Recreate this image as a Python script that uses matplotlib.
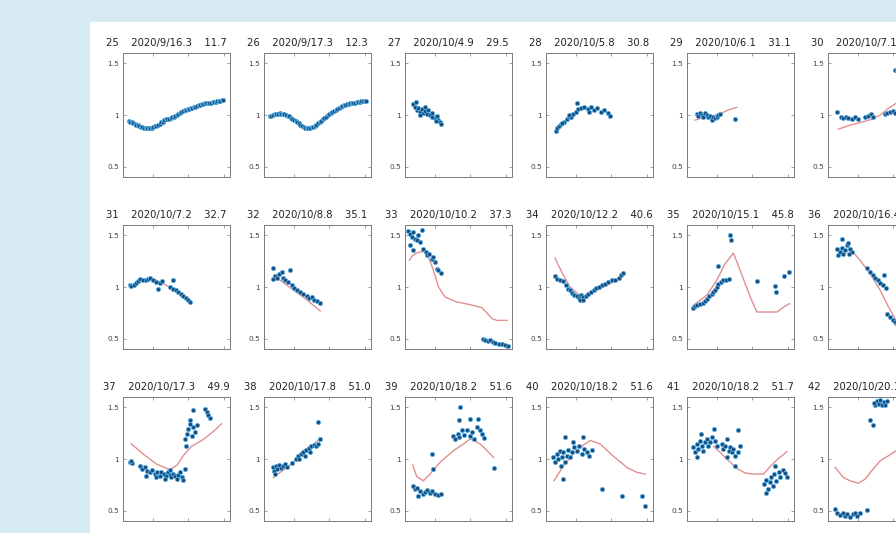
import numpy as np
import matplotlib
matplotlib.use("Agg")
import matplotlib.pyplot as plt
from matplotlib.patches import Rectangle

# %% Data (x = percent of each panel's time span, y = ratio)
panel_ids = [25, 26, 27, 28, 29, 30, 31, 32, 33, 34, 35, 36, 37, 38, 39, 40, 41, 42]
panel_dates = ["2020/9/16.3", "2020/9/17.3", "2020/10/4.9", "2020/10/5.8", "2020/10/6.1", "2020/10/7.1",
               "2020/10/7.2", "2020/10/8.8", "2020/10/10.2", "2020/10/12.2", "2020/10/15.1", "2020/10/16.4",
               "2020/10/17.3", "2020/10/17.8", "2020/10/18.2", "2020/10/18.2", "2020/10/18.2", "2020/10/20.1"]
panel_vals = ["11.7", "12.3", "29.5", "30.8", "31.1", "32.5",
              "32.7", "35.1", "37.3", "40.6", "45.8", "47.2",
              "49.9", "51.0", "51.6", "51.6", "51.7", "54.3"]

p25_pts = [(5.5, .942), (6.8, .935), (8.1, .928), (9.6, .924), (11.0, .915), (12.4, .905), (13.9, .902),
           (15.3, .895), (16.8, .888), (18.2, .884), (19.7, .876), (21.1, .872), (22.6, .870), (24.0, .874),
           (25.5, .872), (27.0, .878), (28.4, .882), (29.9, .890), (31.3, .897), (32.8, .905), (34.2, .915),
           (35.7, .928), (37.1, .936), (38.6, .948), (40.0, .958), (41.5, .962), (43.0, .966), (44.4, .974),
           (45.9, .978), (47.3, .982), (48.8, .990), (50.2, 1.0), (51.7, 1.008), (53.1, 1.018), (54.6, 1.026),
           (56.0, 1.036), (57.5, 1.044), (59.0, 1.052), (60.4, 1.055), (61.9, 1.060), (63.3, 1.066),
           (64.8, 1.072), (66.2, 1.075), (67.7, 1.082), (69.1, 1.088), (70.6, 1.093), (72.0, 1.098),
           (73.5, 1.102), (75.0, 1.108), (76.4, 1.112), (77.9, 1.114), (79.3, 1.117), (80.8, 1.118),
           (82.2, 1.120), (83.7, 1.122), (85.1, 1.124), (86.6, 1.128), (88.0, 1.131), (89.5, 1.134),
           (91.0, 1.138), (92.4, 1.142), (93.8, 1.150)]
p26_pts = [(5.5, .988), (7.0, .994), (8.5, 1.0), (10.0, 1.006), (11.5, 1.01), (13.0, 1.014), (14.5, 1.016),
           (16.0, 1.012), (17.5, 1.01), (19.0, 1.006), (20.5, 1.0), (22.0, .994), (23.5, .986), (25.0, .975),
           (26.5, .962), (28.0, .95), (29.5, .94), (31.0, .93), (32.5, .918), (34.0, .905), (35.5, .895),
           (37.0, .888), (38.5, .878), (40.0, .872), (41.5, .87), (43.0, .876), (44.5, .882), (46.0, .888),
           (47.5, .896), (49.0, .905), (50.5, .918), (52.0, .93), (53.5, .945), (55.0, .958), (56.5, .972),
           (58.0, .985), (59.5, .998), (61.0, 1.01), (62.5, 1.022), (64.0, 1.032), (65.5, 1.042), (67.0, 1.05),
           (68.5, 1.06), (70.0, 1.066), (71.5, 1.075), (73.0, 1.084), (74.5, 1.092), (76.0, 1.098),
           (77.5, 1.104), (79.0, 1.108), (80.5, 1.112), (82.0, 1.115), (83.5, 1.118), (85.0, 1.12),
           (86.5, 1.124), (88.0, 1.126), (89.5, 1.13), (91.0, 1.132), (92.5, 1.134), (94.0, 1.136), (95.0, 1.138)]
p27_pts = [(7.8, 1.108), (9.4, 1.075), (10.9, 1.05), (12.5, 1.065), (14.1, 1.033), (15.6, 1.056), (17.2, 1.023),
           (18.8, 1.042), (20.3, 1.01), (21.9, 1.05), (23.4, 1.0), (25.0, 1.023), (26.6, .984), (28.1, .967),
           (29.7, .99), (31.3, .95), (32.8, .935), (33.8, .91), (10.3, 1.13), (14.1, 1.0), (18.8, 1.075),
           (25.0, .977), (29.0, .944)]
p28_pts = [(9.1, .846), (10.6, .87), (12.2, .892), (14.4, .912), (16.9, .935), (19.4, .958), (21.6, .977),
           (23.1, .984), (25.3, 1.01), (27.8, 1.033), (30.0, 1.056), (29.4, 1.114), (32.5, 1.065), (35.6, 1.075),
           (38.8, 1.056), (41.9, 1.075), (45.0, 1.05), (48.1, 1.065), (51.3, 1.033), (54.4, 1.05), (57.5, 1.023),
           (60.0, .99), (15.3, .92), (21.6, 1.0), (40.3, 1.033)]
p29_pts = [(9.1, 1.01), (10.6, .99), (12.2, 1.016), (13.8, 1.0), (15.3, .984), (16.9, 1.016), (18.4, 1.003),
           (20.0, .977), (21.6, .99), (23.1, .95), (24.7, .984), (26.3, .97), (27.8, .984), (29.4, 1.0),
           (30.9, 1.007), (45.0, .964)]
p29_fit = [(7.5, .95), (15.3, .977), (23.1, .99), (30.9, 1.01), (38.8, 1.05), (46.6, 1.075)]
p30_pts = [(8.1, 1.033), (11.9, .977), (14.4, .967), (16.9, .984), (19.1, .974), (22.2, .964), (25.3, .977),
           (28.4, .964), (34.7, .977), (37.8, .99), (40.0, 1.01), (42.5, .984), (53.4, 1.01), (55.6, 1.023),
           (58.1, 1.033), (60.6, 1.042), (62.8, 1.016), (62.8, 1.435), (64.4, 1.44)]
p30_fit = [(9.7, .863), (20.6, .902), (33.1, .935), (40.9, .958), (48.8, 1.0), (56.6, 1.065), (63.8, 1.114),
           (73.8, 1.15)]
p31_pts = [(6.3, 1.016), (7.8, 1.01), (10.0, 1.023), (11.9, 1.039), (14.1, 1.058), (16.3, 1.077), (18.8, 1.065),
           (21.3, 1.071), (23.4, 1.077), (25.6, 1.084), (28.1, 1.065), (30.6, 1.048), (32.8, .984), (34.4, 1.039),
           (36.9, 1.058), (46.9, 1.071), (43.8, 1.0), (46.9, .984), (49.4, .968), (51.6, .952), (53.8, .935),
           (56.3, .91), (58.8, .897), (60.9, .871), (62.5, .855)]
p31_fit = [(6.3, 1.01), (18.8, 1.058), (31.3, 1.065), (40.6, 1.016), (51.6, .942), (62.5, .845)]
p32_pts = [(8.1, 1.187), (8.8, 1.081), (10.6, 1.103), (12.5, 1.09), (14.4, 1.129), (16.6, 1.145), (18.1, 1.09),
           (19.7, 1.065), (24.4, 1.168), (22.8, 1.048), (25.9, 1.016), (28.1, .99), (30.6, .968), (33.8, .952),
           (36.9, .929), (40.0, .91), (42.5, .897), (44.7, .903), (46.9, .877), (49.4, .865), (51.9, .845)]
p32_fit = [(8.8, 1.113), (24.4, .994), (40.0, .877), (52.5, .768)]
p33_pts = [(3.1, 1.542), (4.7, 1.516), (6.3, 1.484), (7.8, 1.532), (9.4, 1.468), (10.9, 1.452), (12.5, 1.5),
           (14.1, 1.435), (15.6, 1.548), (4.7, 1.403), (17.2, 1.371), (19.7, 1.339), (20.9, 1.306), (22.8, 1.323),
           (25.0, 1.274), (26.6, 1.29), (28.1, 1.242), (29.7, 1.177), (31.3, 1.161), (33.4, 1.135), (7.8, 1.355),
           (72.8, .5), (75.0, .49), (77.2, .477), (79.7, .484), (82.2, .468), (84.4, .458), (87.5, .452),
           (90.6, .445), (93.8, .435), (95.9, .432)]
p33_fit = [(4.1, 1.258), (7.2, 1.306), (10.9, 1.329), (17.2, 1.345), (21.9, 1.29), (26.6, 1.161), (31.3, 1.0),
           (37.5, .903), (48.4, .855), (60.9, .829), (71.9, .8), (76.6, .748), (81.3, .694), (85.9, .677),
           (95.3, .677)]
p34_pts = [(8.4, 1.103), (10.6, 1.081), (13.1, 1.071), (15.6, 1.058), (18.8, 1.016), (20.9, .984), (22.5, .968),
           (24.7, .942), (26.6, .919), (28.8, .91), (30.9, .897), (32.8, .919), (35.0, .903), (37.5, .91),
           (39.7, .935), (41.9, .952), (44.4, .974), (46.9, .994), (49.4, 1.0), (52.2, 1.016), (55.3, 1.032),
           (58.4, 1.048), (61.6, 1.065), (64.7, 1.071), (67.8, 1.09), (70.0, 1.113), (71.9, 1.135),
           (31.6, .877), (35.0, .871)]
p34_fit = [(8.4, 1.281), (11.6, 1.21), (16.3, 1.113), (22.5, 1.0), (30.3, .929), (38.1, .91), (47.5, .968),
           (60.0, 1.032), (70.9, 1.09)]
p35_pts = [(5.9, .8), (7.5, .813), (9.7, .823), (12.2, .832), (14.7, .845), (16.9, .865), (19.1, .887),
           (20.9, .91), (23.1, .929), (24.7, .952), (26.3, .968), (27.8, 1.0), (29.4, 1.026), (31.6, 1.048),
           (34.1, 1.065), (36.6, 1.071), (38.8, 1.081), (29.4, 1.2), (40.3, 1.5), (41.3, 1.452), (65.3, 1.058),
           (82.5, 1.006), (83.1, .952), (90.3, 1.103), (95.0, 1.145)]
p35_fit = [(5.9, .823), (18.4, .919), (27.8, 1.065), (35.6, 1.226), (43.4, 1.329), (49.7, 1.161), (59.1, .903),
           (65.3, .758), (74.7, .758), (84.1, .758), (90.3, .806), (95.9, .839)]
p36_pts = [(8.1, 1.371), (9.7, 1.306), (11.3, 1.339), (12.8, 1.381), (14.4, 1.323), (15.9, 1.355), (17.5, 1.403),
           (19.1, 1.426), (20.6, 1.371), (22.2, 1.339), (20.0, 1.323), (12.8, 1.468), (36.3, 1.187),
           (39.4, 1.145), (41.9, 1.113), (44.1, 1.09), (46.3, 1.065), (48.8, 1.039), (51.3, 1.016),
           (52.5, 1.113), (53.8, .994), (55.6, .735), (58.1, .71), (60.6, .684), (62.8, .661), (64.4, .645)]
p36_fit = [(20.6, 1.371), (30.0, 1.258), (39.4, 1.129), (48.8, .968), (56.6, .806), (63.8, .671), (70.6, .58)]
p37_pts = [(6.9, .974), (8.8, .961), (7.8, .984), (15.6, .935), (18.1, .903), (20.3, .919), (22.5, .886),
           (25.0, .87), (27.5, .896), (29.7, .854), (31.9, .877), (34.4, .838), (35.9, .87), (38.1, .854),
           (40.6, .831), (42.2, .87), (43.8, .844), (45.3, .821), (46.9, .854), (48.4, .831), (50.0, .805),
           (51.6, .844), (53.1, .87), (54.7, .821), (56.3, .799), (57.8, .903), (21.9, .838), (31.3, .821),
           (43.8, .896), (39.1, .805), (57.8, 1.195), (59.4, 1.244), (60.9, 1.292), (62.5, 1.341),
           (64.1, 1.227), (65.6, 1.308), (67.2, 1.26), (68.8, 1.325), (58.8, 1.123), (65.6, 1.471),
           (76.6, 1.487), (78.1, 1.455), (79.7, 1.422), (81.3, 1.396), (62.5, 1.373)]
p37_fit = [(7.8, 1.146), (18.8, 1.049), (31.3, .951), (43.8, .896), (50.6, .942), (56.3, 1.032), (64.1, 1.123),
           (75.0, 1.188), (84.4, 1.266), (92.2, 1.341)]
p38_pts = [(8.1, .919), (9.4, .886), (11.3, .935), (12.5, .903), (14.4, .942), (16.3, .909), (18.1, .929),
           (20.0, .951), (21.9, .919), (10.6, .854), (25.9, .961), (30.0, 1.0), (32.2, 1.026), (34.4, 1.049),
           (36.9, 1.065), (39.4, 1.091), (41.6, 1.104), (43.8, 1.123), (46.3, 1.136), (48.8, 1.123),
           (50.9, 1.146), (51.9, 1.195), (50.0, 1.357), (33.1, 1.0), (38.1, 1.032), (42.8, 1.065)]
p38_fit = [(8.8, .821), (21.3, .919), (30.6, 1.0), (41.6, 1.097), (52.5, 1.201)]
p39_pts = [(7.2, .74), (9.4, .708), (11.6, .724), (14.1, .692), (16.6, .659), (18.4, .682), (20.6, .701),
           (23.1, .675), (25.6, .692), (28.1, .659), (31.3, .649), (33.4, .659), (12.5, .643), (25.0, 1.049),
           (26.6, .903), (44.7, 1.227), (46.9, 1.195), (49.1, 1.244), (50.9, 1.211), (53.1, 1.276),
           (55.3, 1.234), (57.8, 1.276), (60.3, 1.227), (62.2, 1.26), (64.4, 1.195), (67.2, 1.308),
           (69.7, 1.276), (71.9, 1.244), (74.1, 1.201), (51.6, 1.503), (50.9, 1.373), (60.9, 1.39),
           (68.4, 1.383), (83.4, .909)]
p39_fit = [(7.2, .942), (10.9, .831), (17.2, .789), (23.4, .854), (32.8, .968), (45.3, 1.081), (54.7, 1.146),
           (60.9, 1.195), (70.3, 1.146), (76.6, 1.081), (82.8, 1.016)]
p40_pts = [(6.9, 1.016), (8.4, .968), (10.0, 1.049), (11.6, 1.0), (13.1, 1.081), (14.7, 1.016), (16.3, 1.065),
           (17.8, .968), (19.4, 1.032), (20.9, 1.091), (22.5, 1.016), (24.1, 1.065), (26.3, 1.114),
           (28.8, 1.081), (31.3, 1.13), (33.4, 1.049), (35.6, 1.097), (38.1, 1.065), (40.6, 1.032),
           (42.8, 1.091), (13.8, .935), (15.6, .805), (17.8, 1.211), (25.6, 1.169), (35.0, 1.211),
           (52.2, .708), (70.9, .643), (89.7, .643), (92.8, .545)]
p40_fit = [(7.5, .789), (16.3, .935), (25.6, 1.049), (35.0, 1.136), (41.3, 1.179), (50.6, 1.146), (63.1, 1.026),
           (75.6, .919), (85.0, .87), (92.8, .854)]
p41_pts = [(5.9, 1.114), (7.5, 1.065), (9.1, 1.146), (10.6, 1.097), (12.2, 1.179), (12.8, 1.244), (13.8, 1.123),
           (15.3, 1.081), (16.9, 1.162), (18.4, 1.195), (20.0, 1.123), (21.6, 1.169), (23.4, 1.211),
           (25.0, 1.286), (26.6, 1.179), (9.1, 1.016), (28.4, 1.13), (32.5, 1.146), (34.1, 1.097),
           (35.6, 1.123), (37.2, 1.195), (38.8, 1.081), (40.3, 1.114), (41.9, 1.065), (43.4, 1.097),
           (45.0, 1.032), (47.2, 1.071), (49.1, 1.123), (48.1, 1.276), (45.0, .935), (37.2, 1.016),
           (72.2, .756), (74.1, .799), (75.3, .708), (77.2, .773), (78.4, .821), (80.3, .74), (81.6, .854),
           (83.4, .789), (85.6, .877), (87.2, .821), (89.7, .896), (91.9, .864), (73.4, .675), (93.4, .821),
           (82.5, .935)]
p41_fit = [(24.7, 1.123), (30.9, 1.065), (38.8, .984), (46.6, .909), (54.4, .864), (62.2, .854), (71.6, .854),
           (77.8, .929), (85.6, 1.006), (93.4, 1.071)]
p42_pts = [(44.1, 1.519), (45.6, 1.558), (47.2, 1.536), (48.8, 1.568), (50.3, 1.526), (51.9, 1.552),
           (53.4, 1.519), (55.0, 1.558), (43.1, 1.545), (39.4, 1.373), (41.9, 1.331), (6.6, .513), (8.8, .474),
           (11.3, .455), (13.8, .474), (15.9, .448), (18.1, .464), (20.6, .442), (23.1, .464), (25.3, .481),
           (27.5, .448), (30.0, .474), (36.3, .506)]
p42_fit = [(6.6, .919), (14.4, .821), (20.6, .789), (28.4, .766), (34.7, .805), (40.9, .886), (48.8, .984),
           (56.6, 1.032), (63.8, 1.081), (70.6, 1.123)]

panel_points = [p25_pts, p26_pts, p27_pts, p28_pts, p29_pts, p30_pts,
                p31_pts, p32_pts, p33_pts, p34_pts, p35_pts, p36_pts,
                p37_pts, p38_pts, p39_pts, p40_pts, p41_pts, p42_pts]
panel_fits = [None, None, None, None, p29_fit, p30_fit,
              p31_fit, p32_fit, p33_fit, p34_fit, p35_fit, p36_fit,
              p37_fit, p38_fit, p39_fit, p40_fit, p41_fit, p42_fit]

# %% Figure
W, H = 896, 533
fig = plt.figure(figsize=(W / 100, H / 100), dpi=100, facecolor='#d7e9f1')
fig.patches.append(Rectangle((90 / W, 0), 1, (H - 22) / H, transform=fig.transFigure,
                             facecolor='white', edgecolor='none', zorder=-10))

for k in range(18):
    r, c = divmod(k, 6)
    left, top = 123 + 141 * c, 53 + 172 * r
    ax = fig.add_axes([left / W, 1 - (top + 124) / H, 107 / W, 124 / H])
    ax.set_xlim(0, 100)
    ax.set_ylim(0.4, 1.6)

    fit = panel_fits[k]
    if fit is not None:
        fx, fy = np.array(fit).T
        ax.plot(fx, fy, color='#e28f8f', lw=1.0, zorder=2)
    px, py = np.array(panel_points[k]).T
    ax.scatter(px, py, s=9, facecolor='#1a4a78', edgecolors='#55aee3', linewidths=0.6, zorder=3)

    ax.set_yticks([0.5, 1, 1.5])
    ax.set_yticklabels(['0.5', '1', '1.5'])
    ax.set_xticks([28, 61, 94])
    ax.set_xticklabels([])
    ax.tick_params(direction='in', length=2, width=0.5, color='#777777', top=True, right=True,
                   labelsize=5.3, labelcolor='#444444', pad=3)
    for sp in ax.spines.values():
        sp.set_color('#7a7a7a')
        sp.set_linewidth(0.7)

    ax.annotate(f"{panel_ids[k]}    {panel_dates[k]}    {panel_vals[k]}",
                xy=(0.5, 1), xycoords='axes fraction', xytext=(-7.5, 4.7), textcoords='offset points',
                ha='center', va='baseline', fontsize=7.2, color='#222222', annotation_clip=False)

fig.savefig('out.png', dpi=100, facecolor=fig.get_facecolor())
